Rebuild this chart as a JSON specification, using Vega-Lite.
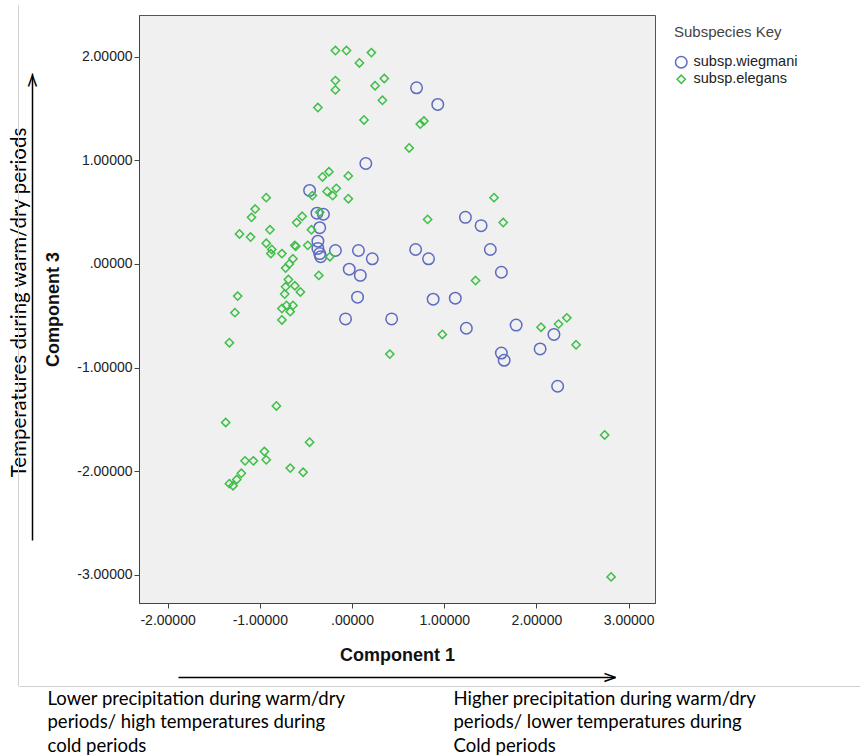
{
  "$schema": "https://vega.github.io/schema/vega-lite/v6.json",
  "width": 516,
  "height": 588,
  "autosize": {"type": "none"},
  "padding": {"left": 139, "top": 15, "right": 205, "bottom": 153},
  "background": "white",
  "config": {
    "view": {"fill": "#f0f0f0", "stroke": "#555555", "strokeWidth": 1},
    "font": "Liberation Sans"
  },
  "data": {"values": [
    {"c1": -0.46, "c3": 0.71, "sub": "subsp.wiegmani"},
    {"c1": -0.38, "c3": 0.49, "sub": "subsp.wiegmani"},
    {"c1": -0.31, "c3": 0.48, "sub": "subsp.wiegmani"},
    {"c1": -0.35, "c3": 0.35, "sub": "subsp.wiegmani"},
    {"c1": -0.37, "c3": 0.22, "sub": "subsp.wiegmani"},
    {"c1": -0.37, "c3": 0.15, "sub": "subsp.wiegmani"},
    {"c1": -0.35, "c3": 0.10, "sub": "subsp.wiegmani"},
    {"c1": -0.34, "c3": 0.07, "sub": "subsp.wiegmani"},
    {"c1": -0.18, "c3": 0.13, "sub": "subsp.wiegmani"},
    {"c1": 0.07, "c3": 0.13, "sub": "subsp.wiegmani"},
    {"c1": 0.22, "c3": 0.05, "sub": "subsp.wiegmani"},
    {"c1": -0.03, "c3": -0.05, "sub": "subsp.wiegmani"},
    {"c1": 0.09, "c3": -0.11, "sub": "subsp.wiegmani"},
    {"c1": 0.06, "c3": -0.32, "sub": "subsp.wiegmani"},
    {"c1": -0.07, "c3": -0.53, "sub": "subsp.wiegmani"},
    {"c1": 0.43, "c3": -0.53, "sub": "subsp.wiegmani"},
    {"c1": 0.15, "c3": 0.97, "sub": "subsp.wiegmani"},
    {"c1": 0.70, "c3": 1.70, "sub": "subsp.wiegmani"},
    {"c1": 0.93, "c3": 1.54, "sub": "subsp.wiegmani"},
    {"c1": 1.23, "c3": 0.45, "sub": "subsp.wiegmani"},
    {"c1": 1.40, "c3": 0.37, "sub": "subsp.wiegmani"},
    {"c1": 0.69, "c3": 0.14, "sub": "subsp.wiegmani"},
    {"c1": 0.83, "c3": 0.05, "sub": "subsp.wiegmani"},
    {"c1": 1.50, "c3": 0.14, "sub": "subsp.wiegmani"},
    {"c1": 1.62, "c3": -0.08, "sub": "subsp.wiegmani"},
    {"c1": 0.88, "c3": -0.34, "sub": "subsp.wiegmani"},
    {"c1": 1.12, "c3": -0.33, "sub": "subsp.wiegmani"},
    {"c1": 1.24, "c3": -0.62, "sub": "subsp.wiegmani"},
    {"c1": 1.78, "c3": -0.59, "sub": "subsp.wiegmani"},
    {"c1": 2.19, "c3": -0.68, "sub": "subsp.wiegmani"},
    {"c1": 2.04, "c3": -0.82, "sub": "subsp.wiegmani"},
    {"c1": 1.62, "c3": -0.86, "sub": "subsp.wiegmani"},
    {"c1": 1.65, "c3": -0.93, "sub": "subsp.wiegmani"},
    {"c1": 2.23, "c3": -1.18, "sub": "subsp.wiegmani"},
    {"c1": -0.18, "c3": 2.06, "sub": "subsp.elegans"},
    {"c1": -0.06, "c3": 2.06, "sub": "subsp.elegans"},
    {"c1": 0.21, "c3": 2.04, "sub": "subsp.elegans"},
    {"c1": 0.08, "c3": 1.94, "sub": "subsp.elegans"},
    {"c1": -0.18, "c3": 1.77, "sub": "subsp.elegans"},
    {"c1": -0.18, "c3": 1.68, "sub": "subsp.elegans"},
    {"c1": 0.35, "c3": 1.79, "sub": "subsp.elegans"},
    {"c1": 0.25, "c3": 1.72, "sub": "subsp.elegans"},
    {"c1": 0.33, "c3": 1.58, "sub": "subsp.elegans"},
    {"c1": -0.37, "c3": 1.51, "sub": "subsp.elegans"},
    {"c1": 0.13, "c3": 1.39, "sub": "subsp.elegans"},
    {"c1": 0.74, "c3": 1.35, "sub": "subsp.elegans"},
    {"c1": 0.78, "c3": 1.38, "sub": "subsp.elegans"},
    {"c1": 0.62, "c3": 1.12, "sub": "subsp.elegans"},
    {"c1": -0.25, "c3": 0.89, "sub": "subsp.elegans"},
    {"c1": -0.32, "c3": 0.84, "sub": "subsp.elegans"},
    {"c1": -0.04, "c3": 0.85, "sub": "subsp.elegans"},
    {"c1": 1.54, "c3": 0.64, "sub": "subsp.elegans"},
    {"c1": 0.82, "c3": 0.43, "sub": "subsp.elegans"},
    {"c1": 1.64, "c3": 0.40, "sub": "subsp.elegans"},
    {"c1": 1.34, "c3": -0.16, "sub": "subsp.elegans"},
    {"c1": 0.98, "c3": -0.68, "sub": "subsp.elegans"},
    {"c1": 2.05, "c3": -0.61, "sub": "subsp.elegans"},
    {"c1": 2.24, "c3": -0.58, "sub": "subsp.elegans"},
    {"c1": 2.33, "c3": -0.52, "sub": "subsp.elegans"},
    {"c1": 2.43, "c3": -0.78, "sub": "subsp.elegans"},
    {"c1": 2.74, "c3": -1.65, "sub": "subsp.elegans"},
    {"c1": 2.81, "c3": -3.02, "sub": "subsp.elegans"},
    {"c1": 0.41, "c3": -0.87, "sub": "subsp.elegans"},
    {"c1": -0.82, "c3": -1.37, "sub": "subsp.elegans"},
    {"c1": -1.37, "c3": -1.53, "sub": "subsp.elegans"},
    {"c1": -0.46, "c3": -1.72, "sub": "subsp.elegans"},
    {"c1": -0.95, "c3": -1.81, "sub": "subsp.elegans"},
    {"c1": -1.16, "c3": -1.90, "sub": "subsp.elegans"},
    {"c1": -1.07, "c3": -1.90, "sub": "subsp.elegans"},
    {"c1": -0.93, "c3": -1.89, "sub": "subsp.elegans"},
    {"c1": -0.67, "c3": -1.97, "sub": "subsp.elegans"},
    {"c1": -0.53, "c3": -2.01, "sub": "subsp.elegans"},
    {"c1": -1.20, "c3": -2.02, "sub": "subsp.elegans"},
    {"c1": -1.25, "c3": -2.08, "sub": "subsp.elegans"},
    {"c1": -1.33, "c3": -2.12, "sub": "subsp.elegans"},
    {"c1": -1.29, "c3": -2.14, "sub": "subsp.elegans"},
    {"c1": -0.43, "c3": 0.66, "sub": "subsp.elegans"},
    {"c1": -0.27, "c3": 0.70, "sub": "subsp.elegans"},
    {"c1": -0.17, "c3": 0.73, "sub": "subsp.elegans"},
    {"c1": -0.21, "c3": 0.66, "sub": "subsp.elegans"},
    {"c1": -0.04, "c3": 0.63, "sub": "subsp.elegans"},
    {"c1": -0.93, "c3": 0.64, "sub": "subsp.elegans"},
    {"c1": -1.05, "c3": 0.53, "sub": "subsp.elegans"},
    {"c1": -1.09, "c3": 0.45, "sub": "subsp.elegans"},
    {"c1": -1.22, "c3": 0.29, "sub": "subsp.elegans"},
    {"c1": -1.10, "c3": 0.26, "sub": "subsp.elegans"},
    {"c1": -0.89, "c3": 0.33, "sub": "subsp.elegans"},
    {"c1": -0.93, "c3": 0.20, "sub": "subsp.elegans"},
    {"c1": -0.87, "c3": 0.14, "sub": "subsp.elegans"},
    {"c1": -0.88, "c3": 0.10, "sub": "subsp.elegans"},
    {"c1": -0.76, "c3": 0.10, "sub": "subsp.elegans"},
    {"c1": -0.60, "c3": 0.40, "sub": "subsp.elegans"},
    {"c1": -0.54, "c3": 0.46, "sub": "subsp.elegans"},
    {"c1": -0.44, "c3": 0.33, "sub": "subsp.elegans"},
    {"c1": -0.35, "c3": 0.50, "sub": "subsp.elegans"},
    {"c1": -0.62, "c3": 0.18, "sub": "subsp.elegans"},
    {"c1": -0.61, "c3": 0.17, "sub": "subsp.elegans"},
    {"c1": -0.48, "c3": 0.18, "sub": "subsp.elegans"},
    {"c1": -0.24, "c3": 0.07, "sub": "subsp.elegans"},
    {"c1": -0.64, "c3": 0.05, "sub": "subsp.elegans"},
    {"c1": -0.68, "c3": 0.00, "sub": "subsp.elegans"},
    {"c1": -0.72, "c3": -0.04, "sub": "subsp.elegans"},
    {"c1": -0.36, "c3": -0.11, "sub": "subsp.elegans"},
    {"c1": -0.69, "c3": -0.15, "sub": "subsp.elegans"},
    {"c1": -0.62, "c3": -0.21, "sub": "subsp.elegans"},
    {"c1": -0.56, "c3": -0.27, "sub": "subsp.elegans"},
    {"c1": -0.72, "c3": -0.22, "sub": "subsp.elegans"},
    {"c1": -0.73, "c3": -0.29, "sub": "subsp.elegans"},
    {"c1": -0.71, "c3": -0.40, "sub": "subsp.elegans"},
    {"c1": -0.64, "c3": -0.40, "sub": "subsp.elegans"},
    {"c1": -0.76, "c3": -0.43, "sub": "subsp.elegans"},
    {"c1": -0.67, "c3": -0.46, "sub": "subsp.elegans"},
    {"c1": -0.76, "c3": -0.54, "sub": "subsp.elegans"},
    {"c1": -1.24, "c3": -0.31, "sub": "subsp.elegans"},
    {"c1": -1.27, "c3": -0.47, "sub": "subsp.elegans"},
    {"c1": -1.33, "c3": -0.76, "sub": "subsp.elegans"}
  ]},
  "layer": [
    {
      "mark": {"type": "point", "filled": false, "strokeWidth": 1.5, "opacity": 1, "size": 132},
      "encoding": {
        "x": {"field": "c1", "type": "quantitative",
          "scale": {"domain": [-2.31, 3.286], "nice": false, "zero": false},
          "axis": {"values": [-2, -1, 0, 1, 2, 3],
            "labelExpr": "datum.value == 0 ? '.00000' : replace(format(datum.value, '.5f'), '\u2212', '-')",
            "title": "Component 1", "titleFontSize": 18, "titleFontWeight": "bold", "titleColor": "#111111",
            "labelFontSize": 14, "labelColor": "#222222", "tickColor": "#444444", "tickSize": 5,
            "domainColor": "#444444", "grid": false, "titlePadding": 19, "labelPadding": 5,
            "labelFlush": false, "labelOverlap": false}},
        "y": {"field": "c3", "type": "quantitative",
          "scale": {"domain": [-3.272, 2.403], "nice": false, "zero": false},
          "axis": {"values": [-3, -2, -1, 0, 1, 2],
            "labelExpr": "datum.value == 0 ? '.00000' : replace(format(datum.value, '.5f'), '\u2212', '-')",
            "title": "Component 3", "titleFontSize": 18, "titleFontWeight": "bold", "titleColor": "#111111",
            "labelFontSize": 14, "labelColor": "#222222", "tickColor": "#444444", "tickSize": 5,
            "domainColor": "#444444", "grid": false, "titlePadding": 14, "labelPadding": 2,
            "labelFlush": false, "labelOverlap": false}},
        "shape": {"field": "sub", "type": "nominal",
          "scale": {"domain": ["subsp.wiegmani", "subsp.elegans"], "range": ["circle", "M0,-0.72L0.72,0L0,0.72L-0.72,0Z"]},
          "legend": {"orient": "none", "legendX": 535, "legendY": 10, "title": "Subspecies Key",
            "titleFontSize": 15, "titleFontWeight": "normal", "titleColor": "#444444",
            "labelFontSize": 14.5, "labelColor": "#222222", "titlePadding": 15, "rowPadding": 0,
            "symbolStrokeWidth": 1.5, "symbolSize": 132, "labelOffset": 5}},
        "stroke": {"field": "sub", "type": "nominal",
          "scale": {"domain": ["subsp.wiegmani", "subsp.elegans"], "range": ["#5c6bc0", "#3fbf48"]},
          "legend": {"orient": "none", "legendX": 535, "legendY": 10, "title": "Subspecies Key",
            "titleFontSize": 15, "titleFontWeight": "normal", "titleColor": "#444444",
            "labelFontSize": 14.5, "labelColor": "#222222", "titlePadding": 15, "rowPadding": 0,
            "symbolStrokeWidth": 1.5, "symbolSize": 132, "labelOffset": 5}}
      }
    },
    {
      "mark": {"type": "point", "opacity": 0},
      "encoding": {
        "x": {"field": "c1", "type": "quantitative", "scale": {"domain": [0, 1], "range": [39, 476]},
          "axis": {"orient": "bottom", "offset": 74, "domain": true, "domainColor": "#000000", "domainWidth": 1.5,
            "ticks": false, "labels": false, "grid": false, "title": ">", "titleX": 478, "titleY": 0,
            "titleAlign": "right", "titleBaseline": "middle", "titleFont": "DejaVu Sans", "titleFontSize": 18,
            "titleFontWeight": "normal", "titleColor": "#000000"}},
        "y": {"field": "c3", "type": "quantitative", "scale": {"domain": [0, 1], "range": [525, 58]},
          "axis": {"orient": "left", "offset": 107, "domain": true, "domainColor": "#000000", "domainWidth": 1.5,
            "ticks": false, "labels": false, "grid": false, "title": "Temperatures during warm/dry periods",
            "titleX": -13, "titleY": 287, "titleAngle": -90, "titleAlign": "center", "titleBaseline": "middle",
            "titleFont": "Lato", "titleFontSize": 20.5, "titleFontWeight": "normal", "titleColor": "#000000"}}
      }
    },
    {
      "mark": {"type": "point", "opacity": 0},
      "encoding": {
        "x": {"field": "c1", "type": "quantitative", "scale": {"domain": [0, 1], "range": [-120, 721]},
          "axis": {"orient": "bottom", "offset": 83, "domain": true, "domainColor": "#d0d0d0", "domainWidth": 1,
            "ticks": false, "labels": false, "grid": false,
            "title": ["Lower precipitation during warm/dry", "periods/ high temperatures during", "cold periods"],
            "titleX": -92, "titleY": 3, "titleAlign": "left", "titleBaseline": "top", "titleAnchor": "start",
            "titleFont": "Lato", "titleFontSize": 18.5, "titleFontWeight": "normal", "titleColor": "#000000",
            "titleLineHeight": 23.5}},
        "y": {"field": "c3", "type": "quantitative", "scale": {"domain": [0, 1], "range": [671, -10]},
          "axis": {"orient": "left", "offset": 121, "domain": true, "domainColor": "#d0d0d0", "domainWidth": 1,
            "ticks": false, "labels": false, "grid": false, "title": ">",
            "titleX": 14, "titleY": 58, "titleAngle": -90, "titleAlign": "right", "titleBaseline": "middle",
            "titleFont": "DejaVu Sans", "titleFontSize": 18, "titleFontWeight": "normal", "titleColor": "#000000"}}
      }
    },
    {
      "mark": {"type": "point", "opacity": 0},
      "encoding": {
        "x": {"field": "c1", "type": "quantitative",
          "axis": {"orient": "bottom", "offset": 0, "domain": false,
            "ticks": false, "labels": false, "grid": false,
            "title": ["Higher precipitation during warm/dry", "periods/ lower temperatures during", "Cold  periods"],
            "titleX": 314, "titleY": 86, "titleAlign": "left", "titleBaseline": "top", "titleAnchor": "start",
            "titleFont": "Lato", "titleFontSize": 18.5, "titleFontWeight": "normal", "titleColor": "#000000",
            "titleLineHeight": 23.5}}
      }
    }
  ],
  "resolve": {"scale": {"x": "independent", "y": "independent"}, "axis": {"x": "independent", "y": "independent"}}
}
